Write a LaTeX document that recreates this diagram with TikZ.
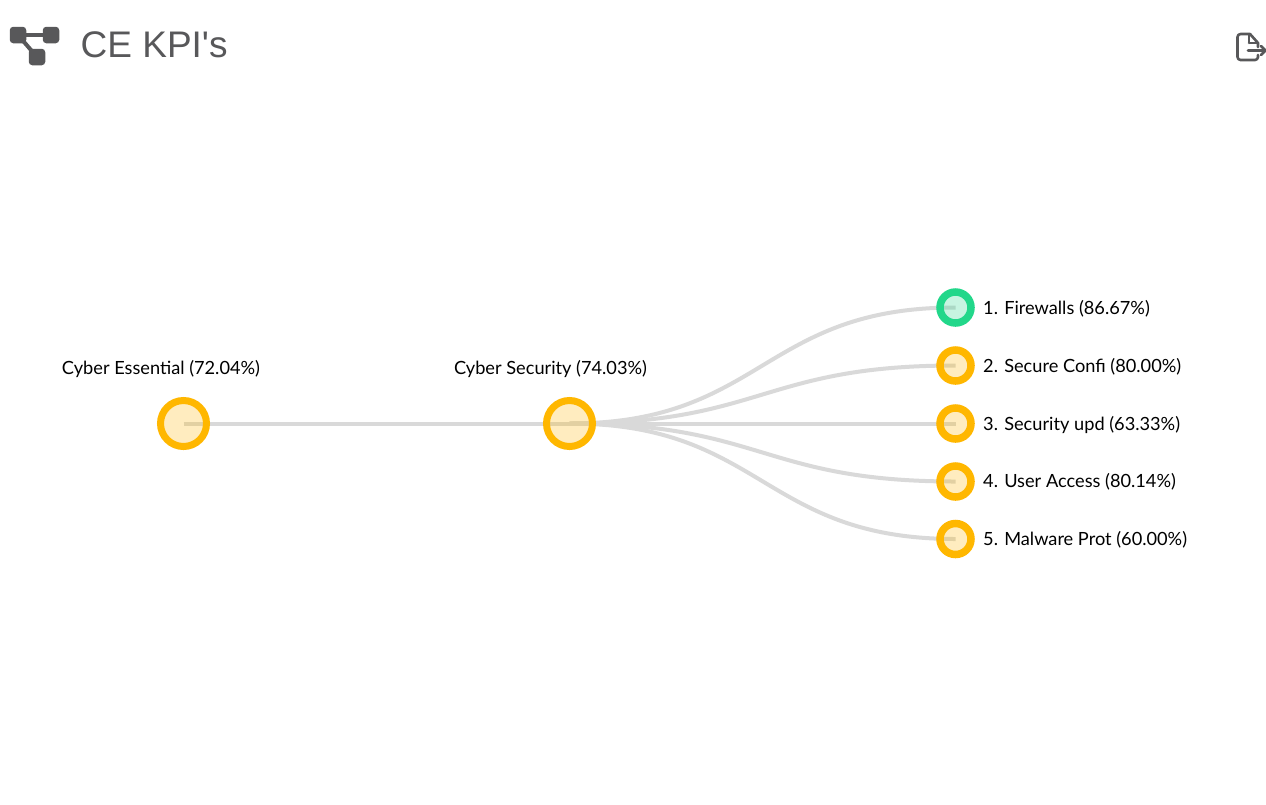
\documentclass[tikz,border=0pt]{standalone}
\usepackage{fontspec}
\setmainfont{Lato}
\newfontfamily\titlefont{Liberation Sans}
\usetikzlibrary{backgrounds}
\definecolor{amber}{HTML}{FFB700}
\definecolor{mint}{HTML}{22D78A}
\definecolor{linkgrey}{HTML}{D9D9D9}
\definecolor{icongrey}{HTML}{58585A}
\tikzset{
  x=1pt,y=-1pt,
  bignode/.style={circle,inner sep=0pt,minimum size=46pt,line width=7pt,draw=amber,fill=amber,fill opacity=.25,draw opacity=1},
  smallnode/.style={circle,inner sep=0pt,minimum size=31pt,line width=7.5pt,draw=#1,fill=#1,fill opacity=.25,draw opacity=1},
  nodelabel/.style={font=\fontsize{18.2pt}{22pt}\selectfont,text=black,inner sep=0pt,anchor=west},
  toplabel/.style={font=\fontsize{18.2pt}{22pt}\selectfont,text=black,inner sep=0pt,anchor=center},
  link/.style={draw=linkgrey,line width=4pt},
  iconbox/.style={fill=icongrey,draw=none,rounded corners=3.5pt,minimum size=16.5pt,inner sep=0pt},
  iconline/.style={draw=icongrey,line width=4pt},
  exitline/.style={draw=icongrey,line width=2.6pt,line cap=round,line join=round},
}
\begin{document}
\begin{tikzpicture}
\useasboundingbox (0,0) rectangle (1266,804);
\node[bignode] (root) at (183.5,423.5) {};
\node[bignode] (sec) at (569.5,423.5) {};
\node[smallnode=mint] (k1) at (955.5,307.5) {};
\node[smallnode=amber] (k2) at (955.5,365.5) {};
\node[smallnode=amber] (k3) at (955.5,423.5) {};
\node[smallnode=amber] (k4) at (955.5,481.5) {};
\node[smallnode=amber] (k5) at (955.5,539) {};
\node[toplabel] (lroot) at (161,369) {Cyber Essential (72.04\%)};
\node[toplabel] (lsec) at (550.5,369) {Cyber Security (74.03\%)};
\node[nodelabel] (l1) at (983,309) {1. Firewalls (86.67\%)};
\node[nodelabel] (l2) at (983,367) {2. Secure Confi (80.00\%)};
\node[nodelabel] (l3) at (983,424.5) {3. Security upd (63.33\%)};
\node[nodelabel] (l4) at (983,482) {4. User Access (80.14\%)};
\node[nodelabel] (l5) at (983,540) {5. Malware Prot (60.00\%)};
\node[anchor=west,inner sep=0pt,text=icongrey,font=\titlefont\fontsize{37pt}{44pt}\selectfont] (title) at (80.5,45) {CE KPI's};
\node[iconbox] (ia) at (18,35) {};
\node[iconbox] (ib) at (51,35) {};
\node[iconbox] (ic) at (37,57) {};
\coordinate (e1) at (1258,43);
\begin{scope}[on background layer]
\fill[white] (0,0) rectangle (1266,804);
\draw[link] (root.center) -- (sec.center);
\draw[link] (sec.center) .. controls (762.5,423.5) and (762.5,307.5) .. (k1.center);
\draw[link] (sec.center) .. controls (762.5,423.5) and (762.5,365.5) .. (k2.center);
\draw[link] (sec.center) -- (k3.center);
\draw[link] (sec.center) .. controls (762.5,423.5) and (762.5,481.5) .. (k4.center);
\draw[link] (sec.center) .. controls (762.5,423.5) and (762.5,539) .. (k5.center);
\draw[iconline] (ia.center) -- (ib.center);
\draw[iconline] (ia.center) -- (ic.center);
\end{scope}
\draw[exitline] (1258,55) -- (1258,57) arc[start angle=0,end angle=90,radius=3] -- (1240.5,60) arc[start angle=90,end angle=180,radius=3] -- (1237.5,37) arc[start angle=180,end angle=270,radius=3] -- (1250,34) -- (1258,43) -- (1258,47);
\draw[exitline] (1249,43) -- (1249,34.5) (1249,43) -- (e1);
\draw[exitline] (1248,50.5) -- (1265,50.5) (1261,46) -- (1265.5,50.5) -- (1261,55);
\end{tikzpicture}
\end{document}
